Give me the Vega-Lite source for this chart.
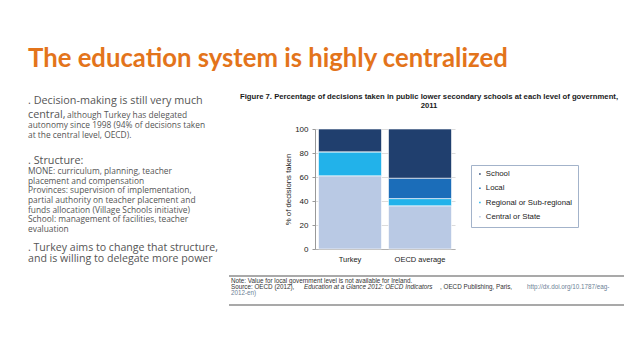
{
  "$schema": "https://vega.github.io/schema/vega-lite/v6.json",
  "background": "white",
  "padding": {"left": 28, "top": 46, "right": 0, "bottom": 0},
  "config": {"view": {"stroke": null}, "font": "Liberation Sans"},
  "title": {
    "text": "The education system is highly centralized",
    "anchor": "start",
    "font": "Lato",
    "fontSize": 25.7,
    "fontWeight": "bold",
    "color": "#E3741B",
    "offset": 20.3
  },
  "spacing": 5,
  "resolve": {"scale": {"color": "independent"}, "legend": {"color": "independent"}},
  "hconcat": [
    {
      "width": 195,
      "height": 173,
      "encoding": {
        "y": {"field": "line", "type": "quantitative", "scale": {"domain": [1, 19], "reverse": true}, "axis": null},
        "x": {"value": 0},
        "text": {"field": "text"}
      },
      "layer": [
        {
          "data": {"values": [{"line": 1, "text": ". Decision-making  is still very much"}]},
          "mark": {"type": "text", "align": "left", "baseline": "middle", "font": "Open Sans", "fontSize": 10.8, "color": "#555555", "dy": -28}
        },
        {
          "data": {"values": [{"line": 2, "text": "central,"}]},
          "mark": {"type": "text", "align": "left", "baseline": "middle", "font": "Open Sans", "fontSize": 10.8, "color": "#555555", "dy": -23.5}
        },
        {
          "data": {"values": [{"line": 2, "text": "although Turkey has delegated"}]},
          "mark": {"type": "text", "align": "left", "baseline": "middle", "font": "Open Sans", "fontSize": 8.4, "color": "#555555", "dy": -23.2, "dx": 39}
        },
        {
          "data": {"values": [
            {"line": 3, "text": "autonomy since 1998 (94% of decisions taken"},
            {"line": 4, "text": "at the central level, OECD)."}
          ]},
          "mark": {"type": "text", "align": "left", "baseline": "middle", "font": "Open Sans", "fontSize": 8.4, "color": "#555555", "dy": -23.2}
        },
        {
          "data": {"values": [{"line": 5, "text": ". Structure:"}]},
          "mark": {"type": "text", "align": "left", "baseline": "middle", "font": "Open Sans", "fontSize": 10.8, "color": "#555555", "dy": -6}
        },
        {
          "data": {"values": [
            {"line": 6, "text": "MONE: curriculum, planning, teacher"},
            {"line": 7, "text": "placement and compensation"},
            {"line": 8, "text": "Provinces: supervision of implementation,"},
            {"line": 9, "text": "partial authority on teacher placement and"},
            {"line": 10, "text": "funds allocation (Village Schools initiative)"},
            {"line": 11, "text": "School: management of facilities, teacher"},
            {"line": 12, "text": "evaluation"}
          ]},
          "mark": {"type": "text", "align": "left", "baseline": "middle", "font": "Open Sans", "fontSize": 8.4, "color": "#555555", "dy": -6}
        },
        {
          "data": {"values": [{"line": 13, "text": ". Turkey aims to change that structure,"}]},
          "mark": {"type": "text", "align": "left", "baseline": "middle", "font": "Open Sans", "fontSize": 10.6, "color": "#555555", "dy": 4}
        },
        {
          "data": {"values": [{"line": 14, "text": "and is willing to delegate more power"}]},
          "mark": {"type": "text", "align": "left", "baseline": "middle", "font": "Open Sans", "fontSize": 10.6, "color": "#555555", "dy": 5.5}
        }
      ]
    },
    {
      "spacing": 12,
      "resolve": {"scale": {"color": "independent"}, "legend": {"color": "independent"}},
      "vconcat": [
        {
          "width": 140,
          "height": 120,
          "title": {
            "text": ["Figure 7. Percentage of decisions taken in public lower secondary schools at each level of government,", "2011"],
            "font": "Liberation Sans",
            "fontSize": 7.7,
            "fontWeight": "bold",
            "color": "#1a1a1a",
            "anchor": "middle",
            "frame": "group",
            "dx": 44,
            "lineHeight": 9,
            "offset": 15
          },
          "data": {"values": [
            {"country": "Turkey", "level": "Central or State", "tier": 1, "pct": 61},
            {"country": "Turkey", "level": "Regional or Sub-regional", "tier": 2, "pct": 20},
            {"country": "Turkey", "level": "Local", "tier": 3, "pct": 0},
            {"country": "Turkey", "level": "School", "tier": 4, "pct": 19},
            {"country": "OECD average", "level": "Central or State", "tier": 1, "pct": 36},
            {"country": "OECD average", "level": "Regional or Sub-regional", "tier": 2, "pct": 6},
            {"country": "OECD average", "level": "Local", "tier": 3, "pct": 17},
            {"country": "OECD average", "level": "School", "tier": 4, "pct": 41}
          ]},
          "mark": {"type": "bar", "stroke": "white", "strokeWidth": 0.6},
          "encoding": {
            "x": {
              "field": "country", "type": "nominal", "sort": ["Turkey", "OECD average"],
              "scale": {"paddingInner": 0.1, "paddingOuter": 0.05},
              "axis": {"title": null, "labelAngle": 0, "labelFontSize": 7.5, "labelColor": "#222", "ticks": false, "domainColor": "#b0b0b0", "labelPadding": 6}
            },
            "y": {
              "field": "pct", "type": "quantitative", "stack": "zero",
              "scale": {"domain": [0, 100]},
              "axis": {
                "values": [0, 20, 40, 60, 80, 100],
                "title": "% of decisions taken",
                "titleFontSize": 7.8, "titleFontWeight": "normal", "titleColor": "#222", "titlePadding": 2,
                "labelFontSize": 8, "labelColor": "#222", "labelPadding": 4,
                "tickSize": 3, "tickColor": "#999", "domainColor": "#999",
                "gridColor": "#dcdcdc"
              }
            },
            "order": {"field": "tier", "type": "quantitative", "sort": "ascending"},
            "color": {
              "field": "level", "type": "nominal",
              "scale": {
                "domain": ["Central or State", "Regional or Sub-regional", "Local", "School"],
                "range": ["#b9c9e4", "#22b2ea", "#1b6db9", "#203f6e"]
              },
              "legend": {
                "title": null, "orient": "none", "legendX": 156, "legendY": 36,
                "values": ["School", "Local", "Regional or Sub-regional", "Central or State"],
                "strokeColor": "#a3b3ca", "fillColor": "white", "padding": 5,
                "symbolType": "square", "symbolSize": 9, "labelFontSize": 7.8, "labelColor": "#222",
                "labelOffset": 2, "rowPadding": 4.3
              }
            }
          }
        },
        {
          "width": 309,
          "height": 29,
          "encoding": {
            "x": {"datum": 0, "type": "quantitative", "scale": {"domain": [0, 1], "range": [-86, 309]}, "axis": null}
          },
          "layer": [
            {
              "data": {"values": [{"edge": "top"}, {"edge": "bottom"}]},
              "mark": {"type": "rule", "color": "#8c8c8c", "strokeWidth": 1.5},
              "encoding": {
                "x2": {"datum": 1},
                "y": {"field": "edge", "type": "nominal", "scale": {"type": "point", "domain": ["top", "bottom"], "padding": 0}, "axis": null}
              }
            },
            {
              "data": {"values": [{"line": 1, "text": "Note: Value for local government level is not available for Ireland."}, {"line": 2, "text": "Source: OECD (2012),"}]},
              "mark": {"type": "text", "align": "left", "baseline": "middle", "fontSize": 6.3, "color": "#333", "dx": 2},
              "encoding": {"y": {"field": "line", "type": "quantitative", "scale": {"domain": [0.217, 5.05], "reverse": true}, "axis": null}, "text": {"field": "text"}}
            },
            {
              "data": {"values": [{"line": 2, "text": "Education at a Glance 2012: OECD Indicators"}]},
              "mark": {"type": "text", "align": "left", "baseline": "middle", "fontSize": 6.3, "fontStyle": "italic", "color": "#333", "dx": 75},
              "encoding": {"y": {"field": "line", "type": "quantitative", "scale": {"domain": [0.217, 5.05], "reverse": true}, "axis": null}, "text": {"field": "text"}}
            },
            {
              "data": {"values": [{"line": 2, "text": ", OECD Publishing, Paris,"}]},
              "mark": {"type": "text", "align": "left", "baseline": "middle", "fontSize": 6.3, "color": "#333", "dx": 211},
              "encoding": {"y": {"field": "line", "type": "quantitative", "scale": {"domain": [0.217, 5.05], "reverse": true}, "axis": null}, "text": {"field": "text"}}
            },
            {
              "data": {"values": [{"line": 2, "text": "http://dx.doi.org/10.1787/eag-"}]},
              "mark": {"type": "text", "align": "left", "baseline": "middle", "fontSize": 6.3, "color": "#6d7f96", "dx": 298},
              "encoding": {"y": {"field": "line", "type": "quantitative", "scale": {"domain": [0.217, 5.05], "reverse": true}, "axis": null}, "text": {"field": "text"}}
            },
            {
              "data": {"values": [{"line": 3, "text": "2012-en)"}]},
              "mark": {"type": "text", "align": "left", "baseline": "middle", "fontSize": 6.3, "color": "#6d7f96", "dx": 2},
              "encoding": {"y": {"field": "line", "type": "quantitative", "scale": {"domain": [0.217, 5.05], "reverse": true}, "axis": null}, "text": {"field": "text"}}
            }
          ],
          "resolve": {"scale": {"y": "independent"}}
        }
      ]
    }
  ]
}
